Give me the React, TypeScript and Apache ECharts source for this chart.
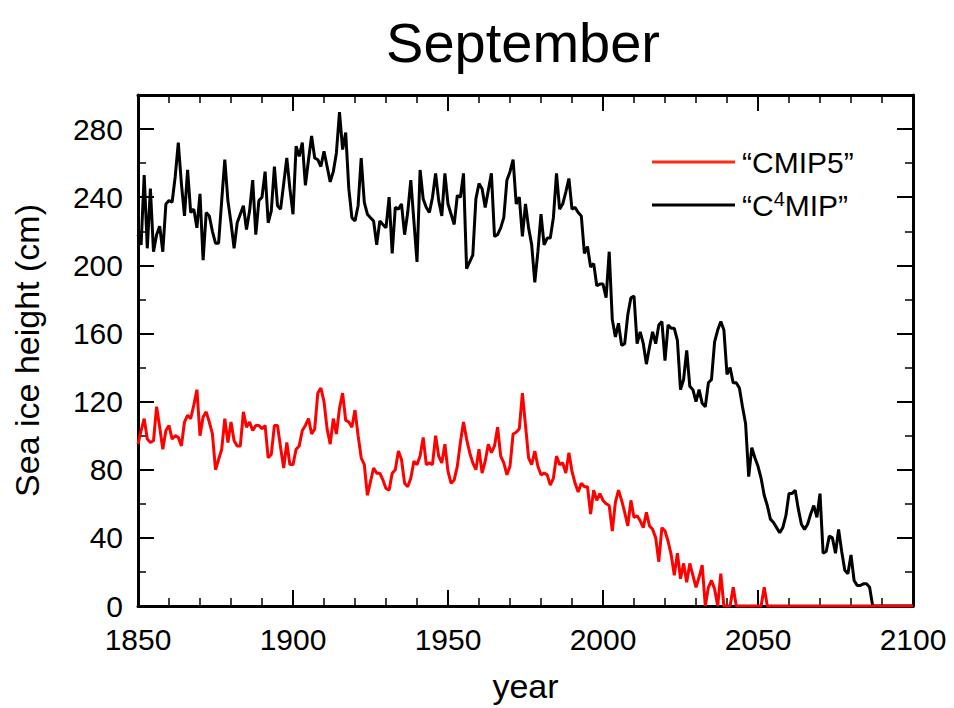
import React, { useEffect, useRef } from 'react';
import * as echarts from 'echarts';

const START_YEAR = 1850;

// "C4MIP" (black) sea ice height, cm, yearly 1850..2100
const c4mip1850s = [
  218, 212, 253, 210, 245, 208, 218, 223, 208, 236,
  238, 237, 252, 272, 248, 229, 256, 231, 233, 222,
  242, 203, 231, 229, 220, 213, 213, 238, 262, 238,
  225, 210, 225, 230, 235, 221, 232, 250, 218, 238,
  240, 255, 225, 232, 258, 235, 233, 248, 263, 245,
];
const c4mip1900s = [
  230, 270, 264, 272, 247, 262, 276, 263, 262, 258,
  267, 258, 249, 255, 266, 290, 268, 278, 245, 228,
  226, 235, 263, 237, 230, 228, 226, 212, 226, 224,
  222, 240, 207, 234, 233, 236, 218, 231, 250, 226,
  202, 256, 239, 234, 231, 240, 254, 238, 229, 254,
];
const c4mip1950s = [
  236, 230, 224, 241, 240, 254, 198, 202, 206, 239,
  248, 245, 234, 244, 254, 217, 218, 222, 228, 250,
  255, 262, 236, 240, 217, 236, 222, 212, 190, 208,
  230, 212, 216, 216, 228, 254, 233, 236, 243, 251,
  233, 234, 231, 229, 207, 211, 199, 201, 188, 189,
];
const c4mip2000s = [
  189, 181, 208, 168, 158, 166, 153, 154, 171, 181,
  182, 154, 161, 154, 142, 152, 161, 154, 165, 167,
  144, 165, 163, 163, 156, 127, 133, 150, 129, 127,
  120, 127, 119, 117, 131, 133, 155, 162, 167, 162,
  136, 140, 131, 131, 128, 117, 107, 76, 93, 87,
];
const c4mip2050s = [
  82, 75, 65, 59, 51, 49, 46, 43, 46, 53,
  66, 66, 68, 57, 48, 45, 48, 54, 59, 52,
  66, 31, 32, 41, 40, 31, 45, 32, 21, 19,
  30, 15, 12, 12, 13, 13, 11, 0, 0, 0,
  0, 0, 0, 0, 0, 0, 0, 0, 0, 0,
  0,
];

// "CMIP5" (red) sea ice height, cm, yearly 1850..2100
const cmip5_1850s = [
  95, 103, 110, 98, 96, 97, 117, 105, 92, 103,
  106, 98, 100, 99, 94, 108, 112, 110, 118, 127,
  100, 111, 114, 108, 101, 80, 86, 92, 110, 96,
  108, 97, 94, 94, 114, 105, 108, 103, 106, 106,
  104, 106, 87, 89, 106, 106, 93, 81, 96, 83,
];
const cmip5_1900s = [
  83, 92, 94, 103, 106, 110, 101, 104, 125, 128,
  120, 104, 95, 110, 101, 116, 125, 109, 108, 105,
  115, 100, 87, 83, 65, 73, 81, 78, 78, 74,
  69, 68, 78, 80, 91, 86, 72, 70, 75, 85,
  83, 88, 99, 83, 84, 83, 100, 88, 84, 95,
];
const cmip5_1950s = [
  79, 72, 74, 82, 96, 108, 98, 90, 84, 80,
  92, 78, 85, 95, 90, 94, 105, 88, 84, 77,
  82, 101, 102, 104, 125, 106, 87, 83, 91, 82,
  77, 78, 77, 71, 75, 88, 83, 84, 78, 90,
  79, 72, 67, 72, 70, 70, 54, 68, 62, 66,
];
const cmip5_2000s = [
  62, 60, 59, 44, 61, 68, 62, 55, 47, 62,
  52, 53, 50, 46, 55, 47, 45, 40, 26, 46,
  44, 38, 30, 18, 31, 16, 25, 14, 25, 18,
  11, 17, 24, 0, 11, 15, 10, 0, 19, 0,
  0, 0, 11, 0, 0, 0, 0, 0, 0, 0,
];
const cmip5_2050s = [
  0, 0, 11, 0, 0, 0, 0, 0, 0, 0,
  0, 0, 0, 0, 0, 0, 0, 0, 0, 0,
  0, 0, 0, 0, 0, 0, 0, 0, 0, 0,
  0, 0, 0, 0, 0, 0, 0, 0, 0, 0,
  0, 0, 0, 0, 0, 0, 0, 0, 0, 0,
  0,
];

const C4MIP = [...c4mip1850s, ...c4mip1900s, ...c4mip1950s, ...c4mip2000s, ...c4mip2050s];
const CMIP5 = [...cmip5_1850s, ...cmip5_1900s, ...cmip5_1950s, ...cmip5_2000s, ...cmip5_2050s];

const X_MIN = 1850;
const X_MAX = 2100;
const X_STEP = 50;
const Y_MIN = 0;
const Y_MAX = 300;
const Y_STEP = 40;

const TITLE = 'September';
const X_NAME = 'year';
const Y_NAME = 'Sea ice height (cm)';

export default function App() {
  const ref = useRef<HTMLDivElement>(null);

  useEffect(() => {
    if (!ref.current) return;
    const chart = echarts.init(ref.current, null, { renderer: 'svg' });
    const font = '"Liberation Sans", Arial, Helvetica, sans-serif';
    const toPairs = (vals: number[]) => vals.map((v, i) => [START_YEAR + i, v]);

    const axisLine = { show: true, onZero: false, lineStyle: { color: '#000', width: 3 } };
    const axisTick = { show: true, inside: true, length: 16, lineStyle: { color: '#000', width: 2 } };
    const minorTick = (n: number) => ({ show: true, splitNumber: n, length: 8, lineStyle: { color: '#000', width: 1.5 } });
    const labelStyle = { fontSize: 30, fontFamily: font, color: '#000' };

    chart.setOption({
      animation: false,
      backgroundColor: '#fff',
      grid: { left: 138, right: 41, top: 95, bottom: 96, containLabel: false },
      graphic: [
        {
          type: 'text',
          x: 523,
          y: 42,
          style: {
            text: TITLE,
            font: `56px ${font}`,
            fill: '#000',
            textAlign: 'center',
            textVerticalAlign: 'middle',
          },
        },
      ],
      legend: {
        data: ['CMIP5', 'C4MIP'],
        orient: 'vertical',
        left: 647,
        top: 141,
        icon: 'rect',
        itemWidth: 83,
        itemHeight: 3,
        itemGap: 11,
        formatter: (name: string) => (name === 'C4MIP' ? '\u201CC{sup|4}MIP\u201D' : '\u201CCMIP5\u201D'),
        textStyle: {
          fontSize: 30,
          fontFamily: font,
          color: '#000',
          lineHeight: 32,
          padding: [0, 0, 0, 2],
          rich: {
            sup: { fontSize: 20, fontFamily: font, color: '#000', verticalAlign: 'top', lineHeight: 20, padding: [0, 0, 10, 0] },
          },
        },
      },
      xAxis: [
        {
          type: 'value',
          min: X_MIN,
          max: X_MAX,
          interval: X_STEP,
          position: 'bottom',
          axisLine,
          axisTick,
          minorTick: minorTick(5),
          splitLine: { show: false },
          axisLabel: { ...labelStyle, lineHeight: 24, margin: 21, formatter: (v: number) => String(v) },
          name: X_NAME,
          nameLocation: 'middle',
          nameGap: 63,
          nameTextStyle: { fontSize: 34, fontFamily: font, color: '#000' },
        },
        {
          type: 'value',
          min: X_MIN,
          max: X_MAX,
          interval: X_STEP,
          position: 'top',
          axisLine,
          axisTick,
          minorTick: minorTick(5),
          splitLine: { show: false },
          axisLabel: { show: false },
        },
      ],
      yAxis: [
        {
          type: 'value',
          min: Y_MIN,
          max: Y_MAX,
          interval: Y_STEP,
          position: 'left',
          axisLine,
          axisTick,
          minorTick: minorTick(2),
          splitLine: { show: false },
          axisLabel: { ...labelStyle, lineHeight: 22, margin: 15, showMaxLabel: false, formatter: (v: number) => String(v) },
          name: Y_NAME,
          nameLocation: 'middle',
          nameGap: 94,
          nameRotate: 90,
          nameTextStyle: { fontSize: 34, fontFamily: font, color: '#000' },
        },
        {
          type: 'value',
          min: Y_MIN,
          max: Y_MAX,
          interval: Y_STEP,
          position: 'right',
          axisLine,
          axisTick,
          minorTick: minorTick(2),
          splitLine: { show: false },
          axisLabel: { show: false },
        },
      ],
      series: [
        {
          name: 'C4MIP',
          type: 'line',
          data: toPairs(C4MIP),
          showSymbol: false,
          symbol: 'none',
          lineStyle: { color: '#000', width: 3 },
          itemStyle: { color: '#000' },
          z: 2,
        },
        {
          name: 'CMIP5',
          type: 'line',
          data: toPairs(CMIP5),
          showSymbol: false,
          symbol: 'none',
          lineStyle: { color: '#ff0000', width: 3 },
          itemStyle: { color: '#ff2a10' },
          z: 3,
        },
      ],
    });

    return () => chart.dispose();
  }, []);

  return (
    <div
      ref={ref}
      style={{ position: 'fixed', left: 0, top: 0, width: 954, height: 708, background: '#fff' }}
    />
  );
}
